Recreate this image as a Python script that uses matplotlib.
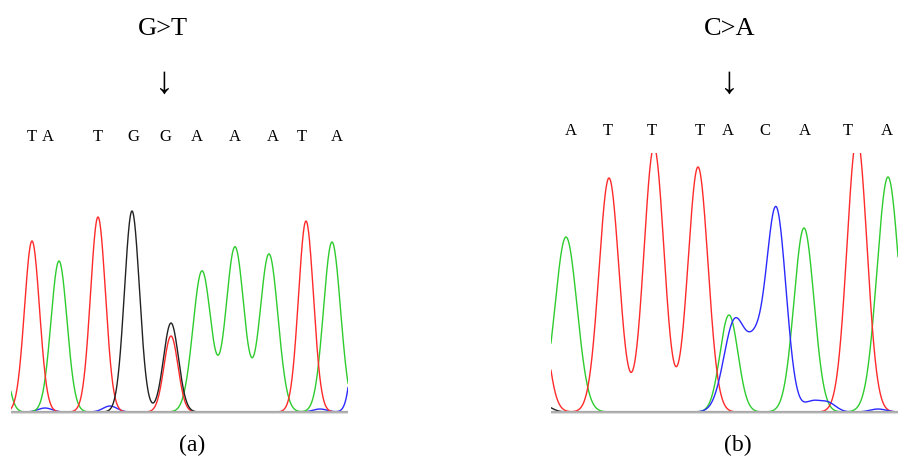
import numpy as np
import matplotlib
matplotlib.use('Agg')
import matplotlib.pyplot as plt

plt.rcParams['font.family'] = ['Liberation Serif', 'DejaVu Serif']

W, H = 898, 462

# peaks: (position, height, width), pixel units
a_T = [(32, 171, 7.5), (98, 195, 7.5), (171, 76, 7), (306, 191, 7.5)]
a_A = [(0, 70, 7), (59, 151, 8), (202, 141, 9), (235, 165, 9), (269, 158, 9), (332, 170, 8.5)]
a_G = [(132, 201, 7.5), (171, 89, 7.5)]
a_C = [(45, 4, 7), (110, 6, 7), (320, 3, 7), (362, 180, 7)]

b_T = [(535, 150, 10), (609, 234, 10), (654, 265, 10), (698, 245, 10), (857, 275, 10)]
b_A = [(566, 175, 11), (729, 97, 9), (804, 184, 10), (888, 235, 11)]
b_G = [(543, 7, 8)]
b_C = [(735, 92, 11), (755, 45, 8), (776, 204, 10), (812, 10, 8), (828, 9, 8), (878, 3, 8)]

a_bases = ['T', 'A', 'T', 'G', 'G', 'A', 'A', 'A', 'T', 'A']
a_base_x = [32, 48, 98, 133, 165, 197, 235, 273, 302, 337]
b_bases = ['A', 'T', 'T', 'T', 'A', 'C', 'A', 'T', 'A']
b_base_x = [571, 608, 652, 700, 728, 765, 805, 848, 887]

colors = {'A': '#2ecc2e', 'C': '#2a2aff', 'G': '#222222', 'T': '#ff2a2a'}


def trace(x, peaks):
    y = np.zeros_like(x)
    for p, h, w in peaks:
        y += h * np.exp(-(x - p) ** 2 / (2 * w ** 2))
    return y


def panel(fig, x0, x1, chans):
    ax = fig.add_axes([x0 / W, (H - 414) / H, (x1 - x0) / W, 261 / H])
    x = np.linspace(x0, x1, 1200)
    for base, peaks in chans:
        ax.plot(x, trace(x, peaks), color=colors[base], lw=1.0)
    ax.axhline(0, color='#a8a8a8', lw=1.6, zorder=3)
    ax.axhline(-1.3, color='#dcdcdc', lw=1.0, zorder=3)
    ax.set_xlim(x0, x1)
    ax.set_ylim(-2, 259)
    ax.axis('off')
    return ax


fig = plt.figure(figsize=(W / 100, H / 100), dpi=100)

panel(fig, 11, 348, [('C', a_C), ('A', a_A), ('T', a_T), ('G', a_G)])
panel(fig, 551, 898, [('G', b_G), ('A', b_A), ('T', b_T), ('C', b_C)])


def txt(x, y, s, size):
    fig.text(x / W, 1 - y / H, s, ha='center', va='center', fontsize=size)


txt(163, 29, 'G>T', 19)
txt(730, 29, 'C>A', 19)
txt(164, 84, '\u2193', 27)
txt(729, 84, '\u2193', 27)
for b, x in zip(a_bases, a_base_x):
    txt(x, 137, b, 12)
for b, x in zip(b_bases, b_base_x):
    txt(x, 131, b, 12)
txt(192, 445, '(a)', 17)
txt(738, 445, '(b)', 17)

fig.savefig('out.png', dpi=100)
